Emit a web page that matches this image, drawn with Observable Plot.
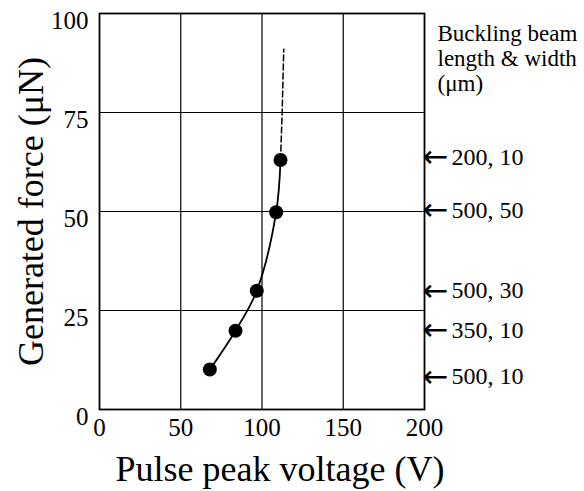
<!DOCTYPE html>
<html>
<head>
<meta charset="utf-8">
<script src="https://cdn.jsdelivr.net/npm/d3@7"></script>
<script src="https://cdn.jsdelivr.net/npm/@observablehq/plot@0.6"></script>
<style>
  html, body { margin: 0; padding: 0; background: #fff; }
</style>
</head>
<body>
<div id="chart"></div>
<script>
// Measured points: pulse peak voltage (V) vs generated force (µN)
const voltage = [67.9, 83.7, 96.8, 108.7, 111.4];
const force = [10.1, 19.9, 30.0, 49.8, 63.0];

// Dashed extrapolation beyond the last point
const extVoltage = [111.4, 112.4, 113.4];
const extForce = [63.0, 75.0, 91.0];

// Right-side annotations: buckling beam length & width (µm)
const beamForce = [63.7, 50.3, 30.0, 20.0, 8.3];
const beamLabels = ["200, 10", "500, 50", "500, 30", "350, 10", "500, 10"];

const xTicks = [0, 50, 100, 150, 200];
const yTicks = [0, 25, 50, 75, 100];
const gridX = [50, 100, 150];
const gridY = [25, 50, 75];

const points = voltage.map((v, i) => ({v, f: force[i]}));
const ext = extVoltage.map((v, i) => ({v, f: extForce[i]}));
const beams = beamForce.map((f, i) => ({f, label: beamLabels[i]}));

const font = '"Liberation Serif", "Times New Roman", serif';

const chart = Plot.plot({
  width: 584,
  height: 491,
  marginLeft: 99,
  marginRight: 160,
  marginTop: 13,
  marginBottom: 82,
  style: {fontFamily: font, background: "#fff", color: "#000", overflow: "visible"},
  x: {domain: [0, 200]},
  y: {domain: [0, 100]},
  marks: [
    Plot.ruleX(gridX, {stroke: "#000", strokeWidth: 1.2}),
    Plot.ruleY(gridY, {stroke: "#000", strokeWidth: 1.2}),
    Plot.frame({stroke: "#000", strokeWidth: 1.8}),
    Plot.axisX({ticks: xTicks, tickSize: 0, tickPadding: 9, fontSize: 25, label: null}),
    Plot.axisY({ticks: yTicks, tickSize: 0, tickPadding: 11, fontSize: 25, label: null, dy: 7}),
    Plot.line(ext, {x: "v", y: "f", stroke: "#000", strokeWidth: 1.5, strokeDasharray: "6,3"}),
    Plot.line(points, {x: "v", y: "f", curve: "catmull-rom", stroke: "#000", strokeWidth: 1.8}),
    Plot.dot(points, {x: "v", y: "f", r: 7, fill: "#000", stroke: "none"}),
    Plot.text(beams, {x: () => 200, y: "f", text: () => "\u2190", textAnchor: "start", dx: -2, fontSize: 31, fontFamily: "DejaVu Sans", fill: "#000"}),
    Plot.text(beams, {x: () => 200, y: "f", text: "label", textAnchor: "start", dx: 27, fontSize: 24, fill: "#000"}),
    Plot.text(["Buckling beam\nlength & width\n(\u03bcm)"], {frameAnchor: "top-right", textAnchor: "start", lineAnchor: "top", dx: 13, dy: 10, fontSize: 23, lineHeight: 1.08, fill: "#000"}),
    Plot.text(["Generated force (\u03bcN)"], {frameAnchor: "left", textAnchor: "middle", rotate: -90, dx: -68, fontSize: 36, fill: "#000"}),
    Plot.text(["Pulse peak voltage (V)"], {frameAnchor: "bottom", textAnchor: "middle", dy: 71, dx: 18, fontSize: 36, fill: "#000"})
  ]
});
document.getElementById("chart").appendChild(chart);
</script>
</body>
</html>
